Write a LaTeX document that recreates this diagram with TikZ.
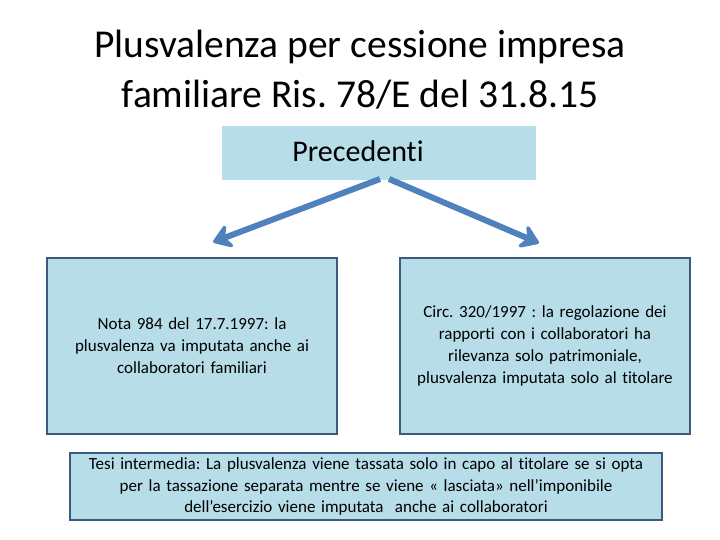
\documentclass[tikz,border=0pt]{standalone}
\usepackage{fontspec}
\setmainfont{Carlito}[Ligatures={NoCommon}]
\usetikzlibrary{arrows.meta}
\definecolor{boxfill}{HTML}{B7DDE8}
\definecolor{boxline}{HTML}{3A5A80}
\definecolor{arrowc}{HTML}{4F81BD}
\tikzset{
  card/.style={draw=boxline, line width=1.8pt, fill=boxfill, align=center, inner sep=0pt},
  link/.style={draw=arrowc, line width=6pt, -{Stealth[length=22pt,width=30pt,inset=8pt,round]}}
}
\begin{document}
\frenchspacing
\begin{tikzpicture}[x=1pt,y=-1pt]
\useasboundingbox (0,0) rectangle (720,540);
\node[align=center, font=\fontsize{39.5}{50}\selectfont] (title) at (360,70)
  {Plusvalenza per cessione impresa\\familiare Ris. 78/E del 31.8.15};
\node[fill=boxfill, minimum width=314pt, minimum height=54pt, inner sep=0pt] (prec) at (379,153) {};
\node[font=\fontsize{30}{34}\selectfont] (prectext) at (358,151) {Precedenti};
\node[card, minimum width=290pt, minimum height=176pt, text width=280pt,
  font=\fontsize{17}{22}\selectfont] (left) at (192,346)
  {Nota 984 del 17.7.1997: la\\plusvalenza va imputata anche ai\\collaboratori familiari};
\node[card, minimum width=290pt, minimum height=176pt, text width=285pt,
  font=\fontsize{17}{22}\selectfont] (right) at (545,346)
  {Circ. 320/1997 : la regolazione dei\\rapporti con i collaboratori ha\\rilevanza solo patrimoniale,\\plusvalenza imputata solo al titolare};
\node[card, minimum width=592pt, minimum height=67pt, text width=588pt,
  font=\fontsize{17}{21.5}\selectfont] (bottom) at (366,486.5)
  {Tesi intermedia: La plusvalenza viene tassata solo in capo al titolare se si opta\\per la tassazione separata mentre se viene « lasciata» nell’imponibile\\dell’esercizio viene imputata\ \ anche ai collaboratori};
\coordinate (a1s) at (380,179);
\coordinate (a2s) at (389,179);
\draw[link] (a1s) -- ([shift={(167,-15)}]left.north west);
\draw[link] (a2s) -- ([shift={(-152,-14)}]right.north east);
\end{tikzpicture}
\end{document}
